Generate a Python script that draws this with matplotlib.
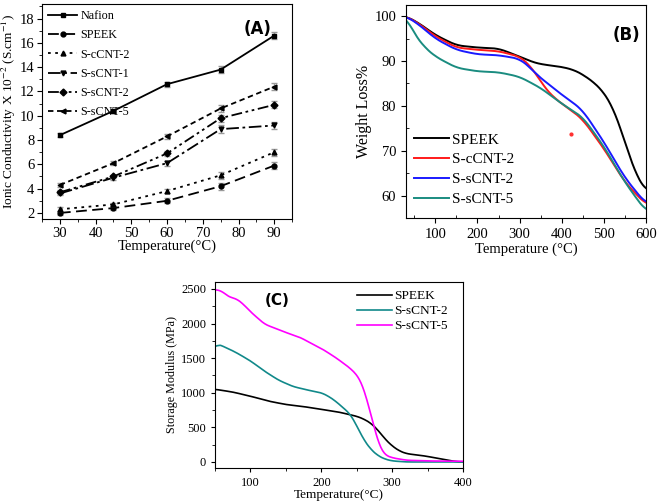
import numpy as np
import matplotlib.pyplot as plt
from matplotlib.ticker import MultipleLocator

plt.rcParams['font.family'] = ['Liberation Serif', 'DejaVu Serif']
plt.rcParams['mathtext.fontset'] = 'stix'

# (A) conductividad ionica
temp_a = [30, 45, 60, 75, 90]
nafion = [8.4, 10.4, 12.6, 13.8, 16.6]
speek_a = [2.0, 2.4, 3.0, 4.2, 5.9]
s_ccnt2_a = [2.3, 2.7, 3.8, 5.1, 7.0]
s_scnt1_a = [3.6, 4.9, 6.1, 8.9, 9.2]
s_scnt2_a = [3.7, 5.0, 6.9, 9.8, 10.9]
s_scnt5_a = [4.3, 6.1, 8.3, 10.6, 12.4]
err_a = [0.15, 0.15, 0.2, 0.3, 0.3]

# (B) TGA
temp_speek_b = [30, 60, 100, 150, 200, 250, 300, 330, 350, 400, 430, 450, 480, 500, 520, 540, 560, 580, 600]
speek_b = [100, 98.5, 95.8, 93.5, 93.0, 92.8, 91.0, 89.8, 89.3, 88.7, 88.0, 87.0, 85.0, 83.0, 80.0, 75.0, 69.0, 64.0, 61.0]
temp_b = [30, 60, 100, 150, 200, 250, 300, 320, 340, 360, 380, 400, 430, 450, 500, 550, 600]
s_ccnt2_b = [100, 98.4, 95.5, 93.0, 92.5, 92.2, 91.0, 89.5, 87.0, 84.0, 82.0, 80.5, 78.5, 77.0, 70.5, 63.0, 58.0]
s_scnt2_b = [100, 98.2, 95.0, 92.5, 91.5, 91.3, 90.5, 89.0, 87.0, 85.5, 84.0, 82.5, 80.5, 79.0, 72.0, 64.0, 58.2]
temp_s5_b = [30, 50, 75, 100, 150, 200, 250, 300, 350, 400, 450, 500, 550, 600]
s_scnt5_b = [100, 96.0, 93.0, 91.0, 88.5, 87.7, 87.5, 86.5, 84.0, 80.5, 77.5, 71.0, 63.0, 56.5]
stray_b = (423, 73.7)

# (C) DMA
temp_speek_c = [50, 75, 100, 125, 150, 175, 200, 225, 250, 260, 270, 280, 290, 300, 310, 320, 340, 350, 360, 375, 390, 400]
speek_c = [1050, 1010, 950, 880, 830, 800, 760, 720, 660, 620, 560, 460, 330, 230, 160, 120, 95, 80, 60, 30, 5, 0]
temp_s2_c = [50, 52, 55, 70, 80, 100, 120, 140, 160, 180, 200, 210, 220, 230, 240, 245, 250, 260, 270, 280, 290, 300, 320, 400]
s_scnt2_c = [1650, 1700, 1700, 1630, 1580, 1460, 1310, 1180, 1090, 1040, 1000, 950, 880, 790, 700, 620, 520, 320, 180, 90, 40, 15, 0, 0]
temp_s5_c = [50, 60, 65, 70, 80, 90, 100, 110, 120, 130, 150, 170, 190, 200, 220, 240, 250, 255, 260, 265, 270, 275, 280, 285, 290, 300, 320, 350, 400]
s_scnt5_c = [2490, 2470, 2420, 2380, 2360, 2280, 2170, 2080, 1990, 1950, 1870, 1800, 1690, 1640, 1510, 1360, 1260, 1180, 1050, 880, 680, 480, 300, 170, 100, 60, 25, 15, 10]


def smooth(x, y, n=300, k=9):
    xs = np.linspace(min(x), max(x), n)
    ys = np.interp(xs, x, y)
    pad = np.pad(ys, k, mode='edge')
    ys = np.convolve(pad, np.ones(2 * k + 1) / (2 * k + 1), mode='same')[k:-k]
    return xs, ys


fig = plt.figure(figsize=(6.6, 5.03), dpi=100)

# ---------- (A)
ax1 = fig.add_axes([0.0636, 0.5646, 0.379, 0.4274])
series_a = [
    ('Nafion', nafion, '-', 's'),
    ('SPEEK', speek_a, (0, (6, 3)), 'o'),
    ('S-cCNT-2', s_ccnt2_a, (0, (1.5, 2.5)), '^'),
    ('S-sCNT-1', s_scnt1_a, (0, (7, 2, 1.5, 2)), 'v'),
    ('S-sCNT-2', s_scnt2_a, (0, (6, 2, 1.5, 2, 1.5, 2)), 'D'),
    ('S-sCNT-5', s_scnt5_a, (0, (3, 2)), '<'),
]
for name, vals, ls, mk in series_a:
    ax1.errorbar(temp_a, vals, yerr=err_a, fmt='none', ecolor='0.6', elinewidth=1, capsize=2)
    ax1.plot(temp_a, vals, color='black', linestyle=ls, marker=mk, markersize=3.5,
             linewidth=1.3, label=name)
ax1.set_xlim(25, 95)
ax1.set_ylim(1.5, 19.2)
ax1.xaxis.set_major_locator(MultipleLocator(10))
ax1.yaxis.set_major_locator(MultipleLocator(2))
ax1.xaxis.set_minor_locator(MultipleLocator(5))
ax1.yaxis.set_minor_locator(MultipleLocator(1))
ax1.tick_params(labelsize=10.5, direction='out', length=3.5, pad=2)
ax1.tick_params(which='minor', direction='out', length=2)
ax1.set_xlabel('Temperature(°C)', fontsize=10.5, labelpad=0)
ax1.set_ylabel('Ionic Conductivity X 10$^{-2}$ (S.cm$^{-1}$)', fontsize=9.6, labelpad=1)
ax1.legend(loc='upper left', frameon=False, fontsize=8.7, handlelength=2.4,
           handletextpad=0.3, labelspacing=0.6, borderaxespad=0.1)
ax1.text(0.86, 0.885, '(A)', transform=ax1.transAxes, fontsize=12, fontweight='bold',
         family='DejaVu Sans', ha='center', va='center')

# ---------- (B)
ax2 = fig.add_axes([0.615, 0.5666, 0.3636, 0.4235])
for tx, vals, col, name in [(temp_speek_b, speek_b, 'black', 'SPEEK'),
                            (temp_b, s_ccnt2_b, '#ff1a1a', 'S-cCNT-2'),
                            (temp_b, s_scnt2_b, '#1a1aff', 'S-sCNT-2'),
                            (temp_s5_b, s_scnt5_b, '#1a8c80', 'S-sCNT-5')]:
    xs, ys = smooth(tx, vals)
    ax2.plot(xs, ys, color=col, linewidth=1.4, label=name)
ax2.plot([stray_b[0]], [stray_b[1]], 'o', color='#ff3030', markersize=2)
ax2.set_xlim(30, 600)
ax2.set_ylim(55, 102.5)
ax2.xaxis.set_major_locator(MultipleLocator(100))
ax2.xaxis.set_minor_locator(MultipleLocator(50))
ax2.yaxis.set_major_locator(MultipleLocator(10))
ax2.yaxis.set_minor_locator(MultipleLocator(5))
ax2.tick_params(labelsize=10.5, direction='out', length=3.5)
ax2.tick_params(which='minor', direction='in', length=2)
ax2.set_xlabel('Temperature (°C)', fontsize=10.5, labelpad=1)
ax2.set_ylabel('Weight Loss%', fontsize=11.5, labelpad=2)
ax2.legend(loc='lower left', frameon=False, fontsize=11, handlelength=2.3,
           handletextpad=0.25, labelspacing=0.4, borderaxespad=0.1,
           bbox_to_anchor=(0.0, 0.02))
ax2.text(0.92, 0.86, '(B)', transform=ax2.transAxes, fontsize=12, fontweight='bold',
         family='DejaVu Sans', ha='center', va='center')

# ---------- (C)
ax3 = fig.add_axes([0.3258, 0.0696, 0.3758, 0.3698])
for tx, vals, col, name in [(temp_speek_c, speek_c, 'black', 'SPEEK'),
                            (temp_s2_c, s_scnt2_c, '#11898a', 'S-sCNT-2'),
                            (temp_s5_c, s_scnt5_c, '#ff00ff', 'S-sCNT-5')]:
    xs, ys = smooth(tx, vals, k=5)
    ax3.plot(xs, ys, color=col, linewidth=1.2, label=name)
ax3.set_xlim(50, 400)
ax3.set_ylim(-87, 2600)
ax3.xaxis.set_major_locator(MultipleLocator(100))
ax3.xaxis.set_minor_locator(MultipleLocator(50))
ax3.yaxis.set_major_locator(MultipleLocator(500))
ax3.yaxis.set_minor_locator(MultipleLocator(250))
ax3.tick_params(labelsize=9, direction='out', length=3)
ax3.tick_params(which='minor', direction='out', length=2)
ax3.set_xlabel('Temperature(°C)', fontsize=9.5, labelpad=0)
ax3.set_ylabel('Storage Modulus (MPa)', fontsize=8.7, labelpad=2)
ax3.legend(loc='upper left', frameon=False, fontsize=9.6, handlelength=2.6,
           handletextpad=0.2, labelspacing=0.2, borderaxespad=0.2,
           bbox_to_anchor=(0.54, 1.0))
ax3.text(0.25, 0.9, '(C)', transform=ax3.transAxes, fontsize=11, fontweight='bold',
         family='DejaVu Sans', ha='center', va='center')

fig.savefig('out.png', dpi=100)
